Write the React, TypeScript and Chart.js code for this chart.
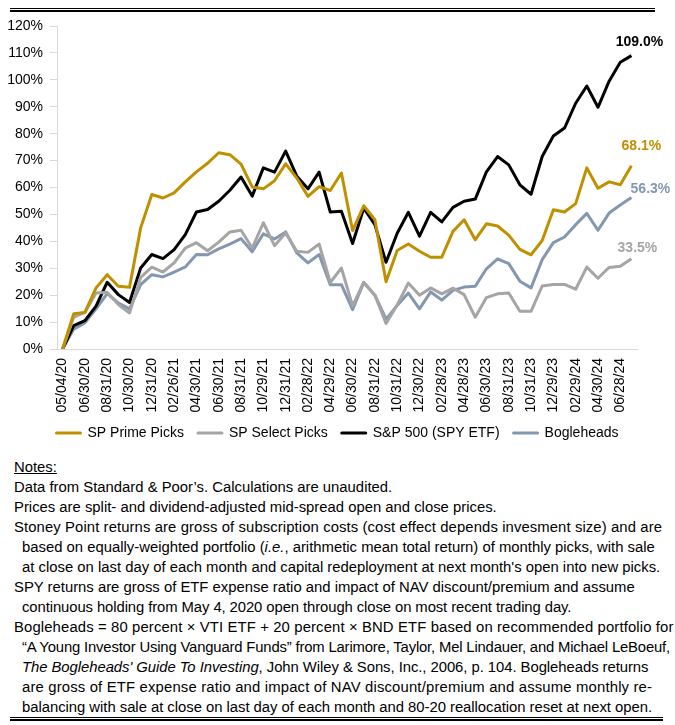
import React, { useEffect, useRef } from 'react';
import { Chart, registerables } from 'chart.js';

Chart.register(...registerables);

const FONT = '"Liberation Sans", Arial, Helvetica, sans-serif';

const categories = [
  '05/04/20', '05/29/20', '06/30/20', '07/31/20', '08/31/20', '09/30/20', '10/30/20', '11/30/20',
  '12/31/20', '01/29/21', '02/26/21', '03/31/21', '04/30/21', '05/28/21', '06/30/21', '07/30/21',
  '08/31/21', '09/30/21', '10/29/21', '11/30/21', '12/31/21', '01/31/22', '02/28/22', '03/31/22',
  '04/29/22', '05/31/22', '06/30/22', '07/29/22', '08/31/22', '09/30/22', '10/31/22', '11/30/22',
  '12/30/22', '01/31/23', '02/28/23', '03/31/23', '04/28/23', '05/31/23', '06/30/23', '07/31/23',
  '08/31/23', '09/29/23', '10/31/23', '11/30/23', '12/29/23', '01/31/24', '02/29/24', '03/28/24',
  '04/30/24', '05/31/24', '06/28/24', '07/31/24',
];

const primePicks = [
  0, 13.1, 13.6, 22.7, 27.6, 23.3, 22.9, 45.0, 57.4, 56.1, 58.0, 62.1, 65.8, 69.0, 72.9, 72.2,
  68.7, 60.2, 59.5, 62.5, 68.8, 63.5, 56.7, 60.3, 58.9, 65.4, 44.0, 53.2, 48.0, 25.0, 36.6, 39.0,
  36.3, 34.1, 34.1, 43.7, 48.0, 40.6, 46.5, 45.7, 42.3, 37.0, 35.0, 40.3, 51.7, 50.9, 54.0, 67.3,
  59.7, 62.1, 61.0, 68.1,
];

const selectPicks = [
  0, 11.8, 13.6, 20.8, 21.1, 16.5, 13.4, 26.6, 30.4, 28.6, 32.0, 37.5, 39.5, 36.5, 39.7, 43.5,
  44.1, 37.5, 46.9, 38.4, 43.1, 36.3, 35.9, 39.0, 24.7, 30.1, 16.0, 24.8, 20.0, 9.5, 16.4, 24.5,
  20.0, 22.7, 20.5, 22.6, 20.2, 11.8, 19.1, 20.5, 20.8, 14.0, 14.0, 23.4, 24.0, 24.0, 22.2, 30.4,
  26.3, 30.3, 30.7, 33.5,
];

const sp500 = [
  0, 8.7, 10.5, 15.9, 24.8, 20.2, 17.3, 30.1, 35.1, 33.6, 36.9, 42.5, 50.9, 51.8, 54.9, 59.0,
  63.9, 56.8, 67.3, 65.7, 73.5, 64.2, 59.5, 65.7, 50.9, 51.2, 39.2, 52.3, 46.2, 32.2, 43.0, 50.8,
  41.9, 50.8, 47.2, 52.6, 54.9, 55.7, 65.8, 71.5, 68.4, 61.0, 57.5, 71.5, 79.1, 82.1, 91.3, 97.7,
  89.8, 99.5, 106.5, 109.0,
];

const bogleheads = [
  0, 7.4, 9.7, 14.9, 20.6, 17.1, 14.9, 23.9, 27.6, 26.8, 28.6, 30.5, 35.1, 35.0, 37.2, 39.0,
  41.0, 36.1, 42.8, 40.9, 43.5, 35.7, 32.0, 35.1, 23.9, 23.9, 14.6, 24.7, 20.0, 11.1, 16.2, 20.8,
  14.9, 21.2, 18.2, 21.8, 23.0, 23.3, 29.8, 33.5, 31.7, 25.2, 22.7, 33.2, 39.5, 41.6, 46.2, 50.4,
  44.1, 50.5, 53.5, 56.3,
];

const seriesNames = ['SP Prime Picks', 'SP Select Picks', 'S&P 500 (SPY ETF)', 'Bogleheads'];
const seriesValues = [primePicks, selectPicks, sp500, bogleheads];
const seriesColors = ['#BF9000', '#A5A5A5', '#000000', '#8497B0'];
const labelOffsets = [[10, -20], [6, -11], [8, -13], [19, -8]];

const yMin = 0;
const yMax = 120;
const yStep = 10;

const endLabelPlugin = {
  id: 'endLabels',
  afterDatasetsDraw(chart: any) {
    const ctx = chart.ctx;
    ctx.save();
    ctx.font = `bold 14px ${FONT}`;
    ctx.textAlign = 'center';
    ctx.textBaseline = 'middle';
    chart.data.datasets.forEach((ds: any, i: number) => {
      const meta = chart.getDatasetMeta(i);
      const pt = meta.data[meta.data.length - 1];
      const v = ds.data[ds.data.length - 1];
      const off = labelOffsets[i];
      ctx.fillStyle = seriesColors[i];
      ctx.fillText(`${v.toFixed(1)}%`, pt.x + off[0], pt.y + off[1]);
    });
    ctx.restore();
  },
};

const noteLines: { text: React.ReactNode; indent?: boolean; ls?: number }[] = [
  { text: 'Data from Standard & Poor’s. Calculations are unaudited.' },
  { text: 'Prices are split- and dividend-adjusted mid-spread open and close prices.' },
  { text: 'Stoney Point returns are gross of subscription costs (cost effect depends invesment size) and are', ls: 0.1 },
  { text: <>based on equally-weighted portfolio (<i>i.e.</i>, arithmetic mean total return) of monthly picks, with sale</>, indent: true },
  { text: "at close on last day of each month and capital redeployment at next month's open into new picks.", indent: true },
  { text: 'SPY returns are gross of ETF expense ratio and impact of NAV discount/premium and assume' },
  { text: 'continuous holding from May 4, 2020 open through close on most recent trading day.', indent: true, ls: -0.09 },
  { text: 'Bogleheads = 80 percent × VTI ETF + 20 percent × BND ETF based on recommended portfolio for', ls: 0.13 },
  { text: '“A Young Investor Using Vanguard Funds” from Larimore, Taylor, Mel Lindauer, and Michael LeBoeuf,', indent: true, ls: -0.17 },
  { text: <><i>The Bogleheads' Guide To Investing</i>, John Wiley &amp; Sons, Inc., 2006, p. 104. Bogleheads returns</>, indent: true, ls: -0.05 },
  { text: 'are gross of ETF expense ratio and impact of NAV discount/premium and assume monthly re-', indent: true, ls: 0.17 },
  { text: 'balancing with sale at close on last day of each month and 80-20 reallocation reset at next open.', indent: true, ls: -0.03 },
];

export default function App() {
  const canvasRef = useRef<HTMLCanvasElement | null>(null);

  useEffect(() => {
    if (!canvasRef.current) return;
    Chart.defaults.font.family = FONT;
    Chart.defaults.color = '#000';
    const chart = new Chart(canvasRef.current, {
      type: 'line',
      data: {
        labels: categories,
        datasets: seriesNames.map((name, i) => ({
          label: name,
          data: seriesValues[i],
          borderColor: seriesColors[i],
          backgroundColor: seriesColors[i],
          borderWidth: 3,
          pointRadius: 0,
          pointHoverRadius: 0,
          tension: 0,
          borderJoinStyle: 'round' as const,
          fill: false,
          yAxisID: 'y',
        })),
      },
      options: {
        animation: false,
        responsive: false,
        events: [],
        layout: { padding: { top: 26, right: 0, bottom: 2, left: 0 } },
        scales: {
          x: {
            type: 'category',
            offset: true,
            grid: { display: false, drawTicks: false },
            border: { display: true, color: '#D9D9D9', width: 1 },
            ticks: {
              autoSkip: false,
              minRotation: 90,
              maxRotation: 90,
              padding: 9,
              font: { size: 14 },
              color: '#000',
              callback: (_v: any, idx: number) => (idx % 2 === 0 ? categories[idx] : ''),
            },
            afterFit: (s: any) => {
              s.height = 63;
            },
          },
          y: {
            position: 'left',
            min: yMin,
            max: yMax,
            grid: { drawOnChartArea: false, drawTicks: true, tickLength: 7, color: '#D9D9D9' },
            border: { display: true, color: '#D9D9D9', width: 1 },
            ticks: {
              stepSize: yStep,
              padding: 7,
              font: { size: 14 },
              color: '#000',
              callback: (v: any) => `${v}%`,
            },
            afterFit: (s: any) => {
              s.width = 57;
            },
          },
          yRight: {
            type: 'linear',
            position: 'right',
            min: yMin,
            max: yMax,
            grid: { display: false, drawTicks: false },
            border: { display: false },
            ticks: { display: false },
            afterFit: (s: any) => {
              s.width = 38;
            },
          },
        },
        plugins: {
          legend: {
            position: 'bottom',
            labels: { boxWidth: 24, boxHeight: 0, padding: 14, font: { size: 14 }, color: '#000' },
          },
          tooltip: { enabled: false },
        },
      },
      plugins: [endLabelPlugin],
    });
    return () => chart.destroy();
  }, []);

  return (
    <div
      style={{
        position: 'absolute',
        left: 0,
        top: 0,
        width: 675,
        height: 725,
        overflow: 'hidden',
        background: '#fff',
        fontFamily: FONT,
        color: '#000',
      }}
    >
      <div style={{ position: 'absolute', left: 10, top: 7.7, width: 645, height: 1.4, background: '#000' }} />
      <div style={{ position: 'absolute', left: 10, top: 10.2, width: 645, height: 1.4, background: '#000' }} />
      <canvas
        ref={canvasRef}
        width={675}
        height={452}
        style={{ position: 'absolute', left: 0, top: 0, width: 675, height: 452 }}
      />
      <div style={{ position: 'absolute', left: 14, top: 457, fontSize: 14.85, lineHeight: '20px', whiteSpace: 'nowrap' }}>
        <div style={{ textDecoration: 'underline' }}>Notes:</div>
        {noteLines.map((l, i) => (
          <div key={i} style={{ paddingLeft: l.indent ? 8 : 0, letterSpacing: l.ls ? `${l.ls}px` : undefined }}>
            {l.text}
          </div>
        ))}
      </div>
      <div style={{ position: 'absolute', left: 10, top: 716.5, width: 653, height: 1.4, background: '#000' }} />
      <div style={{ position: 'absolute', left: 10, top: 719.2, width: 653, height: 1.4, background: '#000' }} />
    </div>
  );
}
